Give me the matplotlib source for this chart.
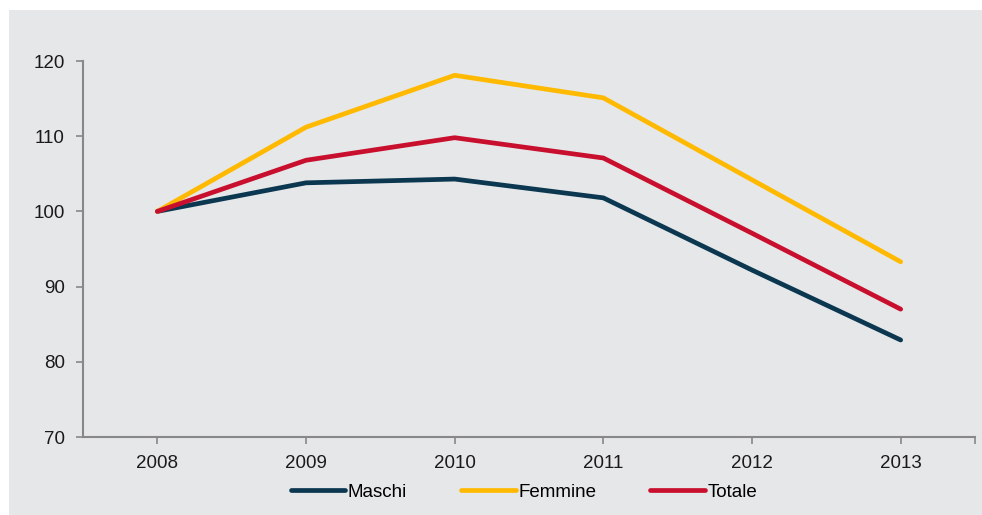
import matplotlib.pyplot as plt
from matplotlib.patches import Rectangle

years = ['2008', '2009', '2010', '2011', '2012', '2013']
maschi = [100, 103.8, 104.3, 101.8, 92.2, 82.9]
femmine = [100, 111.2, 118.1, 115.1, 104.2, 93.3]
totale = [100, 106.8, 109.8, 107.1, 97.1, 87.0]

plt.rcParams['font.family'] = ['Liberation Sans', 'DejaVu Sans']
plt.rcParams['font.size'] = 13.5

fig = plt.figure(figsize=(9.82, 5.15), dpi=100)
fig.patch.set_facecolor('white')
bg = '#e6e7e9'
fig.add_artist(Rectangle((9 / 982, 0), 1, 1 - 10 / 515, transform=fig.transFigure,
                         facecolor=bg, edgecolor='none', zorder=-5))

ax = fig.add_axes([83 / 982, 1 - 437 / 515, (975 - 83) / 982, (437 - 61) / 515])
ax.set_facecolor('none')

x = range(len(years))
ax.plot(x, maschi, color='#0b3850', lw=3.4, solid_capstyle='round', label='Maschi')
ax.plot(x, femmine, color='#ffb900', lw=3.4, solid_capstyle='round', label='Femmine')
ax.plot(x, totale, color='#c8102e', lw=3.4, solid_capstyle='round', label='Totale')

ax.set_xlim(-0.5, 5.5)
ax.set_ylim(70, 120)
ax.set_yticks([70, 80, 90, 100, 110, 120])
ax.set_xticks(list(x) + [5.5])
ax.set_xticklabels(years + [''])

for s in ['top', 'right']:
    ax.spines[s].set_visible(False)
for s in ['left', 'bottom']:
    ax.spines[s].set_color('#888888')
    ax.spines[s].set_linewidth(1.5)
ax.tick_params(axis='both', colors='#888888', labelcolor='#1a1a1a', width=1.2, length=5)
ax.tick_params(axis='x', pad=8)
ax.tick_params(axis='y', pad=8)

fig.legend(loc='center', bbox_to_anchor=(524 / 982, 1 - 492 / 515), ncol=3, frameon=False,
           handlelength=2.9, handletextpad=0.15, columnspacing=2.88, fontsize=13.5)

fig.savefig('out.png', dpi=100, facecolor=fig.get_facecolor())
